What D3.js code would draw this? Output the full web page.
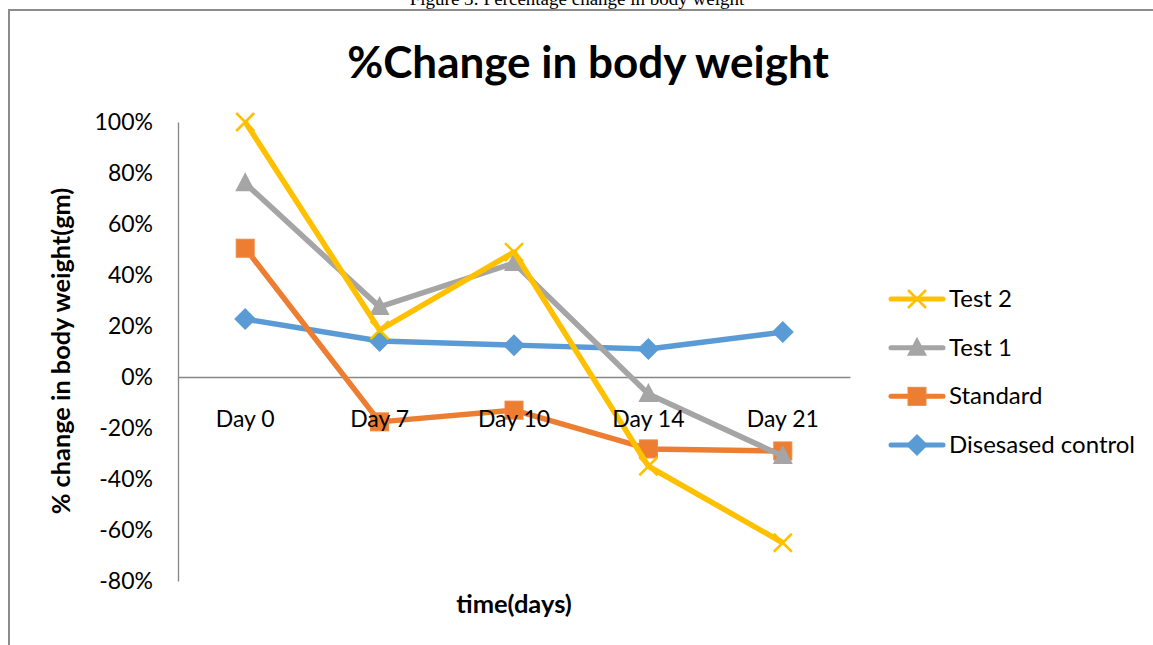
<!DOCTYPE html>
<html>
<head>
<meta charset="utf-8">
<script src="https://cdn.jsdelivr.net/npm/d3@7"></script>
<style>
  body { margin: 0; background: #fff; }
  svg { display: block; }
</style>
</head>
<body>
<div id="chart"></div>
<script>
// Chart data
const days = ["Day 0", "Day 7", "Day 10", "Day 14", "Day 21"];
const yTicks = [1, 0.8, 0.6, 0.4, 0.2, 0, -0.2, -0.4, -0.6, -0.8];
const diseasedControl = [0.227, 0.141, 0.125, 0.110, 0.176];
const standard = [0.505, -0.176, -0.130, -0.282, -0.290];
const test1 = [0.760, 0.275, 0.447, -0.067, -0.310];
const test2 = [1.00, 0.184, 0.490, -0.350, -0.650];

// Series in drawing order (legend shows them reversed)
const series = [
    { name: "Disesased control", values: diseasedControl, color: "#5B9BD5", marker: "diamond" },
    { name: "Standard", values: standard, color: "#ED7D31", marker: "square" },
    { name: "Test 1", values: test1, color: "#A5A5A5", marker: "triangle" },
    { name: "Test 2", values: test2, color: "#FFC000", marker: "x" }
];

const width = 1153;
const height = 645;
const font = "Lato, 'Open Sans', sans-serif";

const svg = d3.select("#chart")
    .append("svg")
    .attr("width", width)
    .attr("height", height);

// Figure caption, cut off at the top in the source
svg.append("text")
    .attr("x", 577)
    .attr("y", 5)
    .attr("text-anchor", "middle")
    .attr("font-family", "'Liberation Serif', serif")
    .attr("font-size", 19)
    .text("Figure 3: Percentage change in body weight");

// Chart frame
svg.append("rect")
    .attr("x", 9)
    .attr("y", 10)
    .attr("width", 1200)
    .attr("height", 700)
    .attr("fill", "none")
    .attr("stroke", "#8c8c8c")
    .attr("stroke-width", 2);

// Scales
const xScale = d3.scaleBand()
    .domain(days)
    .range([178, 850]);

const yScale = d3.scaleLinear()
    .domain([-0.8, 1])
    .range([581, 122]);

const xPos = d => xScale(d) + xScale.bandwidth() / 2;
const pct = d3.format(".0%");

// Title
svg.append("text")
    .attr("x", 588)
    .attr("y", 78)
    .attr("text-anchor", "middle")
    .attr("font-family", font)
    .attr("font-weight", "bold")
    .attr("font-size", 44)
    .text("%Change in body weight");

// Y axis
const yAxis = svg.append("g")
    .attr("transform", "translate(178,0)")
    .call(d3.axisLeft(yScale).tickValues(yTicks).tickSize(0).tickPadding(25)
        .tickFormat(d => pct(d).replace("\u2212", "-")));
yAxis.select(".domain").attr("stroke", "#868686").attr("stroke-width", 1.3);
yAxis.selectAll("text")
    .attr("font-family", font)
    .attr("font-size", 23)
    .attr("fill", "#000");

// zero line (under the series)
const zeroLine = svg.append("g")
    .attr("transform", `translate(0,${yScale(0)})`)
    .call(d3.axisBottom(xScale).tickSize(0).tickFormat(""));
zeroLine.select(".domain").attr("stroke", "#868686").attr("stroke-width", 1.3);

// Axis titles
svg.append("text")
    .attr("transform", "translate(70,351) rotate(-90)")
    .attr("text-anchor", "middle")
    .attr("font-family", font)
    .attr("font-weight", "bold")
    .attr("font-size", 25.3)
    .text("% change in body weight(gm)");

svg.append("text")
    .attr("x", 514)
    .attr("y", 613)
    .attr("text-anchor", "middle")
    .attr("font-family", font)
    .attr("font-weight", "bold")
    .attr("font-size", 25.5)
    .text("time(days)");

// Marker drawing helper
function drawMarker(g, type, color, x, y) {
    if (type === "diamond") {
        g.append("path")
            .attr("d", `M${x},${y - 11}L${x + 11},${y}L${x},${y + 11}L${x - 11},${y}Z`)
            .attr("fill", color);
    } else if (type === "square") {
        g.append("rect")
            .attr("x", x - 9).attr("y", y - 9)
            .attr("width", 18).attr("height", 18)
            .attr("fill", color)
            .attr("stroke", "#F0883E").attr("stroke-width", 1);
    } else if (type === "triangle") {
        g.append("path")
            .attr("d", `M${x},${y - 11}L${x + 10},${y + 8}L${x - 10},${y + 8}Z`)
            .attr("fill", color);
    } else if (type === "x") {
        g.append("path")
            .attr("d", `M${x - 9},${y - 9}L${x + 9},${y + 9}M${x + 9},${y - 9}L${x - 9},${y + 9}`)
            .attr("stroke", color)
            .attr("stroke-width", 2.5);
    }
}

const line = d3.line()
    .x((d, i) => xPos(days[i]))
    .y(d => yScale(d));

// Lines and markers
series.forEach(s => {
    const g = svg.append("g");
    g.append("path")
        .datum(s.values)
        .attr("d", line)
        .attr("fill", "none")
        .attr("stroke", s.color)
        .attr("stroke-width", 5.5)
        .attr("stroke-linejoin", "round");
    s.values.forEach((v, i) => drawMarker(g, s.marker, s.color, xPos(days[i]), yScale(v)));
});

// category labels sit above the series
const xAxis = svg.append("g")
    .attr("transform", `translate(0,${yScale(0)})`)
    .call(d3.axisBottom(xScale).tickSize(0).tickPadding(50));
xAxis.select(".domain").remove();
xAxis.selectAll("text")
    .attr("font-family", font)
    .attr("font-size", 23)
    .attr("fill", "#000")
    .attr("dy", "0");

// Legend
const legendY = d3.scalePoint()
    .domain(series.slice().reverse().map(s => s.name))
    .range([299, 445]);

series.slice().reverse().forEach(s => {
    const y = legendY(s.name);
    const g = svg.append("g");
    g.append("line")
        .attr("x1", 891).attr("x2", 943)
        .attr("y1", y).attr("y2", y)
        .attr("stroke", s.color)
        .attr("stroke-width", 5)
        .attr("stroke-linecap", "round");
    drawMarker(g, s.marker, s.color, 917, y);
    g.append("text")
        .attr("x", 949)
        .attr("y", y + 8)
        .attr("font-family", font)
        .attr("font-size", 24)
        .text(s.name);
});
</script>
</body>
</html>
